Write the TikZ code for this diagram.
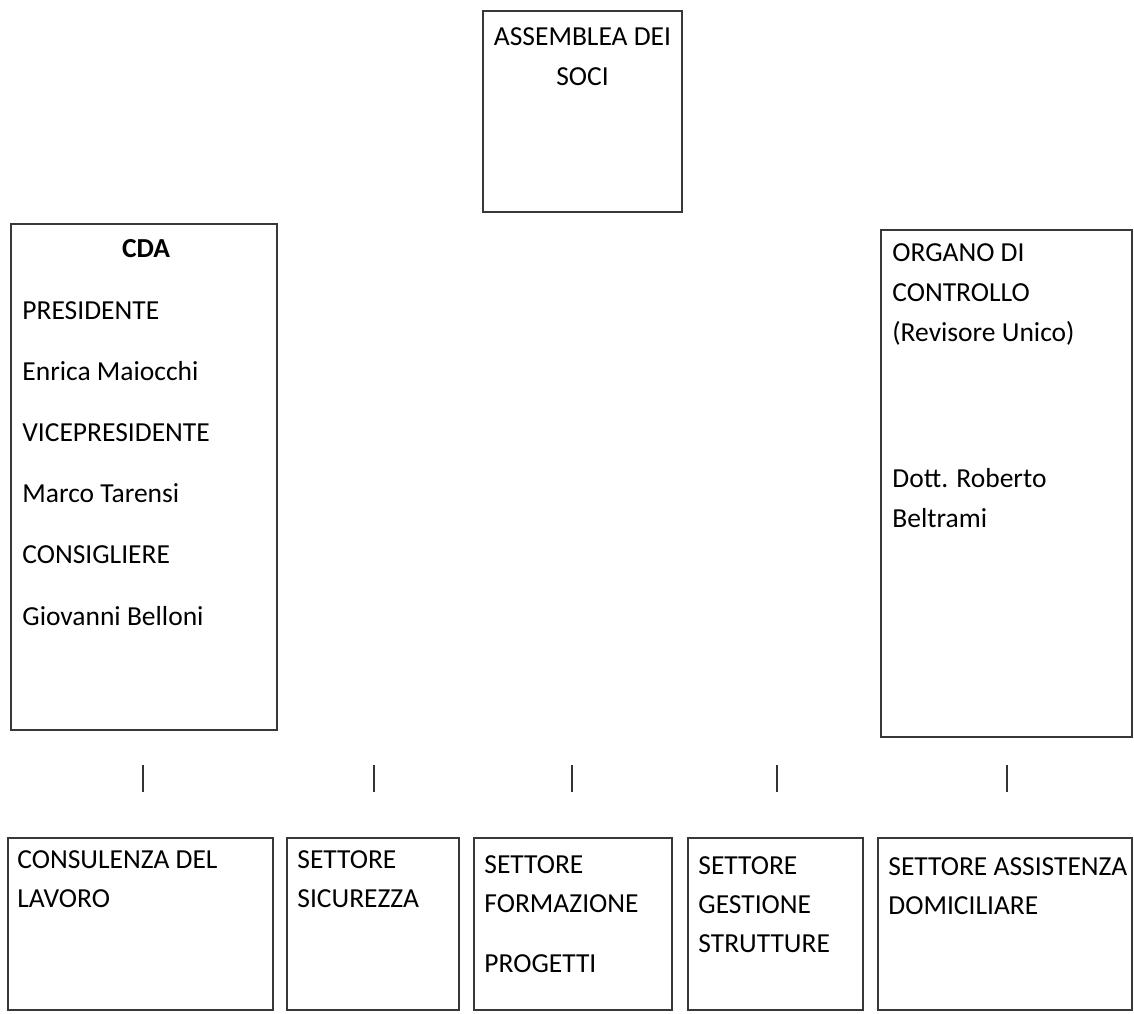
\documentclass[tikz,border=0pt]{standalone}
\usepackage{fontspec}
\setmainfont{Carlito}
\usetikzlibrary{positioning}

\begin{document}
\begin{tikzpicture}[
    x=0.5pt, y=-0.5pt,
    unit/.style={rectangle, draw=black!78, line width=1.2pt, anchor=north west, inner sep=0pt, outer sep=0pt, minimum height=86pt},
    txt/.style={anchor=base west, inner sep=0pt, align=left, text=black, font=\fontsize{13.75}{19.5}\selectfont},
    tick/.style={draw=black!80, line width=1.1pt}
]
\useasboundingbox[fill=white] (0,0) rectangle (1134,1013);

% 1. Top
\node[unit, minimum width=99.5pt, minimum height=100.5pt] (assemblea) at (483,11) {};
\node[txt, anchor=base, align=center, font=\fontsize{13.75}{20}\selectfont] (assemblea_txt) at (582.5,85) {ASSEMBLEA DEI\\SOCI};

% 2. CDA and control body (anchored on the last baseline)
\node[unit, minimum width=133pt, minimum height=253pt] (cda) at (11,224) {};
\node[txt, anchor=base, font=\fontsize{13.75}{20}\bfseries] (cda_title) at (146,257) {CDA};
\node[txt, font=\fontsize{13.75}{30.6}\selectfont] (cda_txt) at (22,625) {PRESIDENTE\\Enrica Maiocchi\\VICEPRESIDENTE\\Marco Tarensi\\CONSIGLIERE\\Giovanni Belloni};

\node[unit, minimum width=125.5pt, minimum height=253.5pt] (controllo) at (881,230) {};
\node[txt, font=\fontsize{13.75}{20}\selectfont] (controllo_txt) at (892,527) {ORGANO DI\\CONTROLLO\\(Revisore Unico)\\[53pt]Dott. Roberto\\Beltrami};

% 3. Ticks
\foreach \tx [count=\i] in {143,374,572,777,1007} {
    \coordinate (tick_top\i) at (\tx,765);
    \coordinate (tick_bot\i) at (\tx,792);
    \draw[tick] (tick_top\i) -- (tick_bot\i);
}

% 4. Sectors
\node[unit, minimum width=132.5pt] (lavoro) at (8,838) {};
\node[unit, minimum width=86pt, right=7pt of lavoro] (sicurezza) {};
\node[unit, minimum width=99pt, right=7.5pt of sicurezza] (formazione) {};
\node[unit, minimum width=87.5pt, right=8pt of formazione] (strutture) {};
\node[unit, minimum width=127pt, right=7.5pt of strutture] (domiciliare) {};

\node[txt] (lavoro_txt) at (17,907) {CONSULENZA DEL\\LAVORO};
\node[txt] (sicurezza_txt) at (297,907) {SETTORE\\SICUREZZA};
\node[txt] (formazione_txt) at (484,972) {SETTORE\\FORMAZIONE\\[10.5pt]PROGETTI};
\node[txt] (strutture_txt) at (698,952) {SETTORE\\GESTIONE\\STRUTTURE};
\node[txt] (domiciliare_txt) at (888,914) {SETTORE ASSISTENZA\\DOMICILIARE};

\end{tikzpicture}
\end{document}
